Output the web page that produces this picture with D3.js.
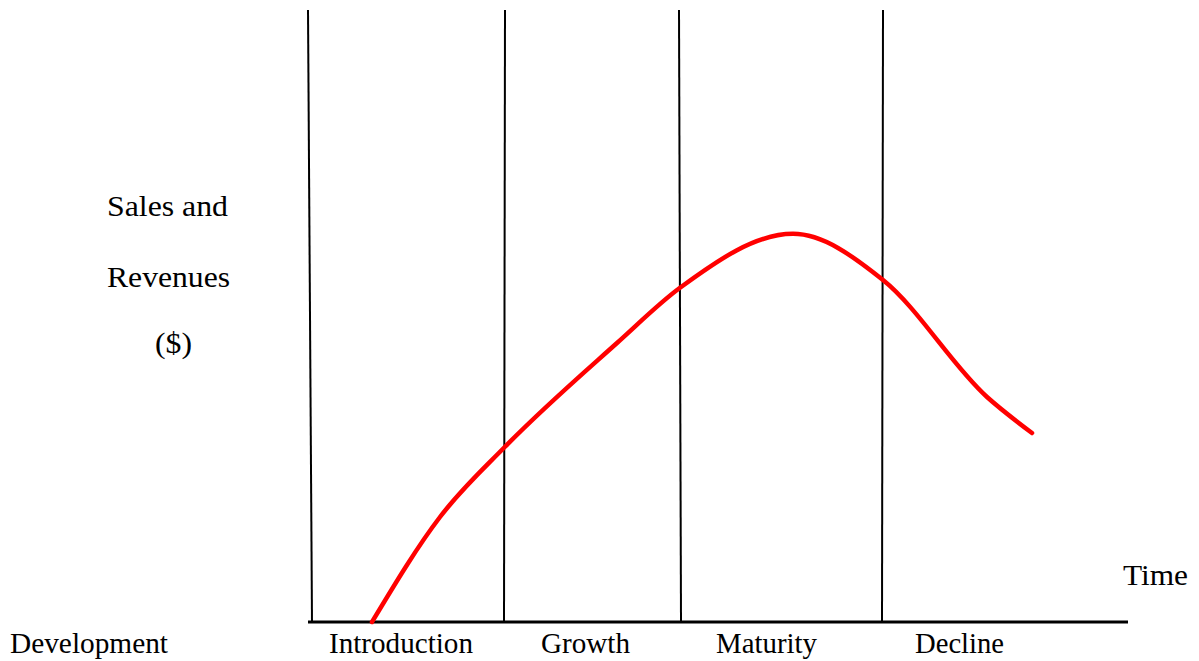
<!DOCTYPE html>
<html>
<head>
<meta charset="utf-8">
<script src="https://cdn.jsdelivr.net/npm/d3@7"></script>
<style>
  body { margin: 0; background: #fff; }
  text { font-family: "Liberation Serif", "Times New Roman", serif; fill: #000; }
</style>
</head>
<body>
<div id="chart"></div>
<script>
// product life cycle, time in arbitrary units, sales in arbitrary units
var timeValues  = [6.4, 13.2, 19.7, 30.9, 37.2, 48.5, 57.5, 67.9, 72.4];
var salesValues = [0, 17.5, 29.2, 46.5, 55.7, 64.7, 57, 37.5, 31.5];

// stage boundaries (time at top, time at bottom of the divider)
var boundaryTop    = [0, 19.7, 37.1, 57.5];
var boundaryBottom = [0.4, 19.6, 37.3, 57.4];

var stageNames = ["Development", "Introduction", "Growth", "Maturity", "Decline"];
var yLabelLines = ["Sales and", "Revenues", "($)"];
var xLabel = "Time";

var svgWidth = 1199;
var svgHeight = 661;

var svg = d3.select("#chart")
  .append("svg")
  .attr("width", svgWidth)
  .attr("height", svgHeight);

var xScale = d3.scaleLinear().domain([0, 82]).range([308, 1128]);
var yScale = d3.scaleLinear().domain([0, 100]).range([622, 22]);

// stage dividers
boundaryTop.forEach(function(t, i) {
  svg.append("line")
    .attr("x1", xScale(t))
    .attr("y1", yScale(102))
    .attr("x2", xScale(boundaryBottom[i]))
    .attr("y2", yScale(0))
    .attr("stroke", "#000")
    .attr("stroke-width", 2);
});

// baseline
svg.append("line")
  .attr("x1", xScale(0))
  .attr("x2", xScale(82))
  .attr("y1", yScale(0))
  .attr("y2", yScale(0))
  .attr("stroke", "#000")
  .attr("stroke-width", 3);

// sales curve
var points = timeValues.map(function(t, i) { return [t, salesValues[i]]; });
var line = d3.line()
  .x(d => xScale(d[0]))
  .y(d => yScale(d[1]))
  .curve(d3.curveMonotoneX);

svg.append("path")
  .datum(points)
  .attr("d", line)
  .attr("fill", "none")
  .attr("stroke", "#ff0000")
  .attr("stroke-width", 4.5)
  .attr("stroke-linecap", "round");

function label(s, x, y, w) {
  svg.append("text")
    .attr("x", x)
    .attr("y", y)
    .attr("textLength", w)
    .attr("lengthAdjust", "spacingAndGlyphs")
    .style("font-size", "30px")
    .text(s);
}

// stage labels along the bottom
var labelX = [10, 329, 541, 716, 915];
var labelW = [158, 144, 89, 101, 89];
stageNames.forEach(function(name, i) {
  label(name, labelX[i], 653, labelW[i]);
});

// y label, three lines
var yLabelPos = [[107, 216, 121], [107, 287, 123], [155, 353, 37]];
yLabelLines.forEach(function(s, i) {
  label(s, yLabelPos[i][0], yLabelPos[i][1], yLabelPos[i][2]);
});

label(xLabel, 1123, 585, 65);
</script>
</body>
</html>
